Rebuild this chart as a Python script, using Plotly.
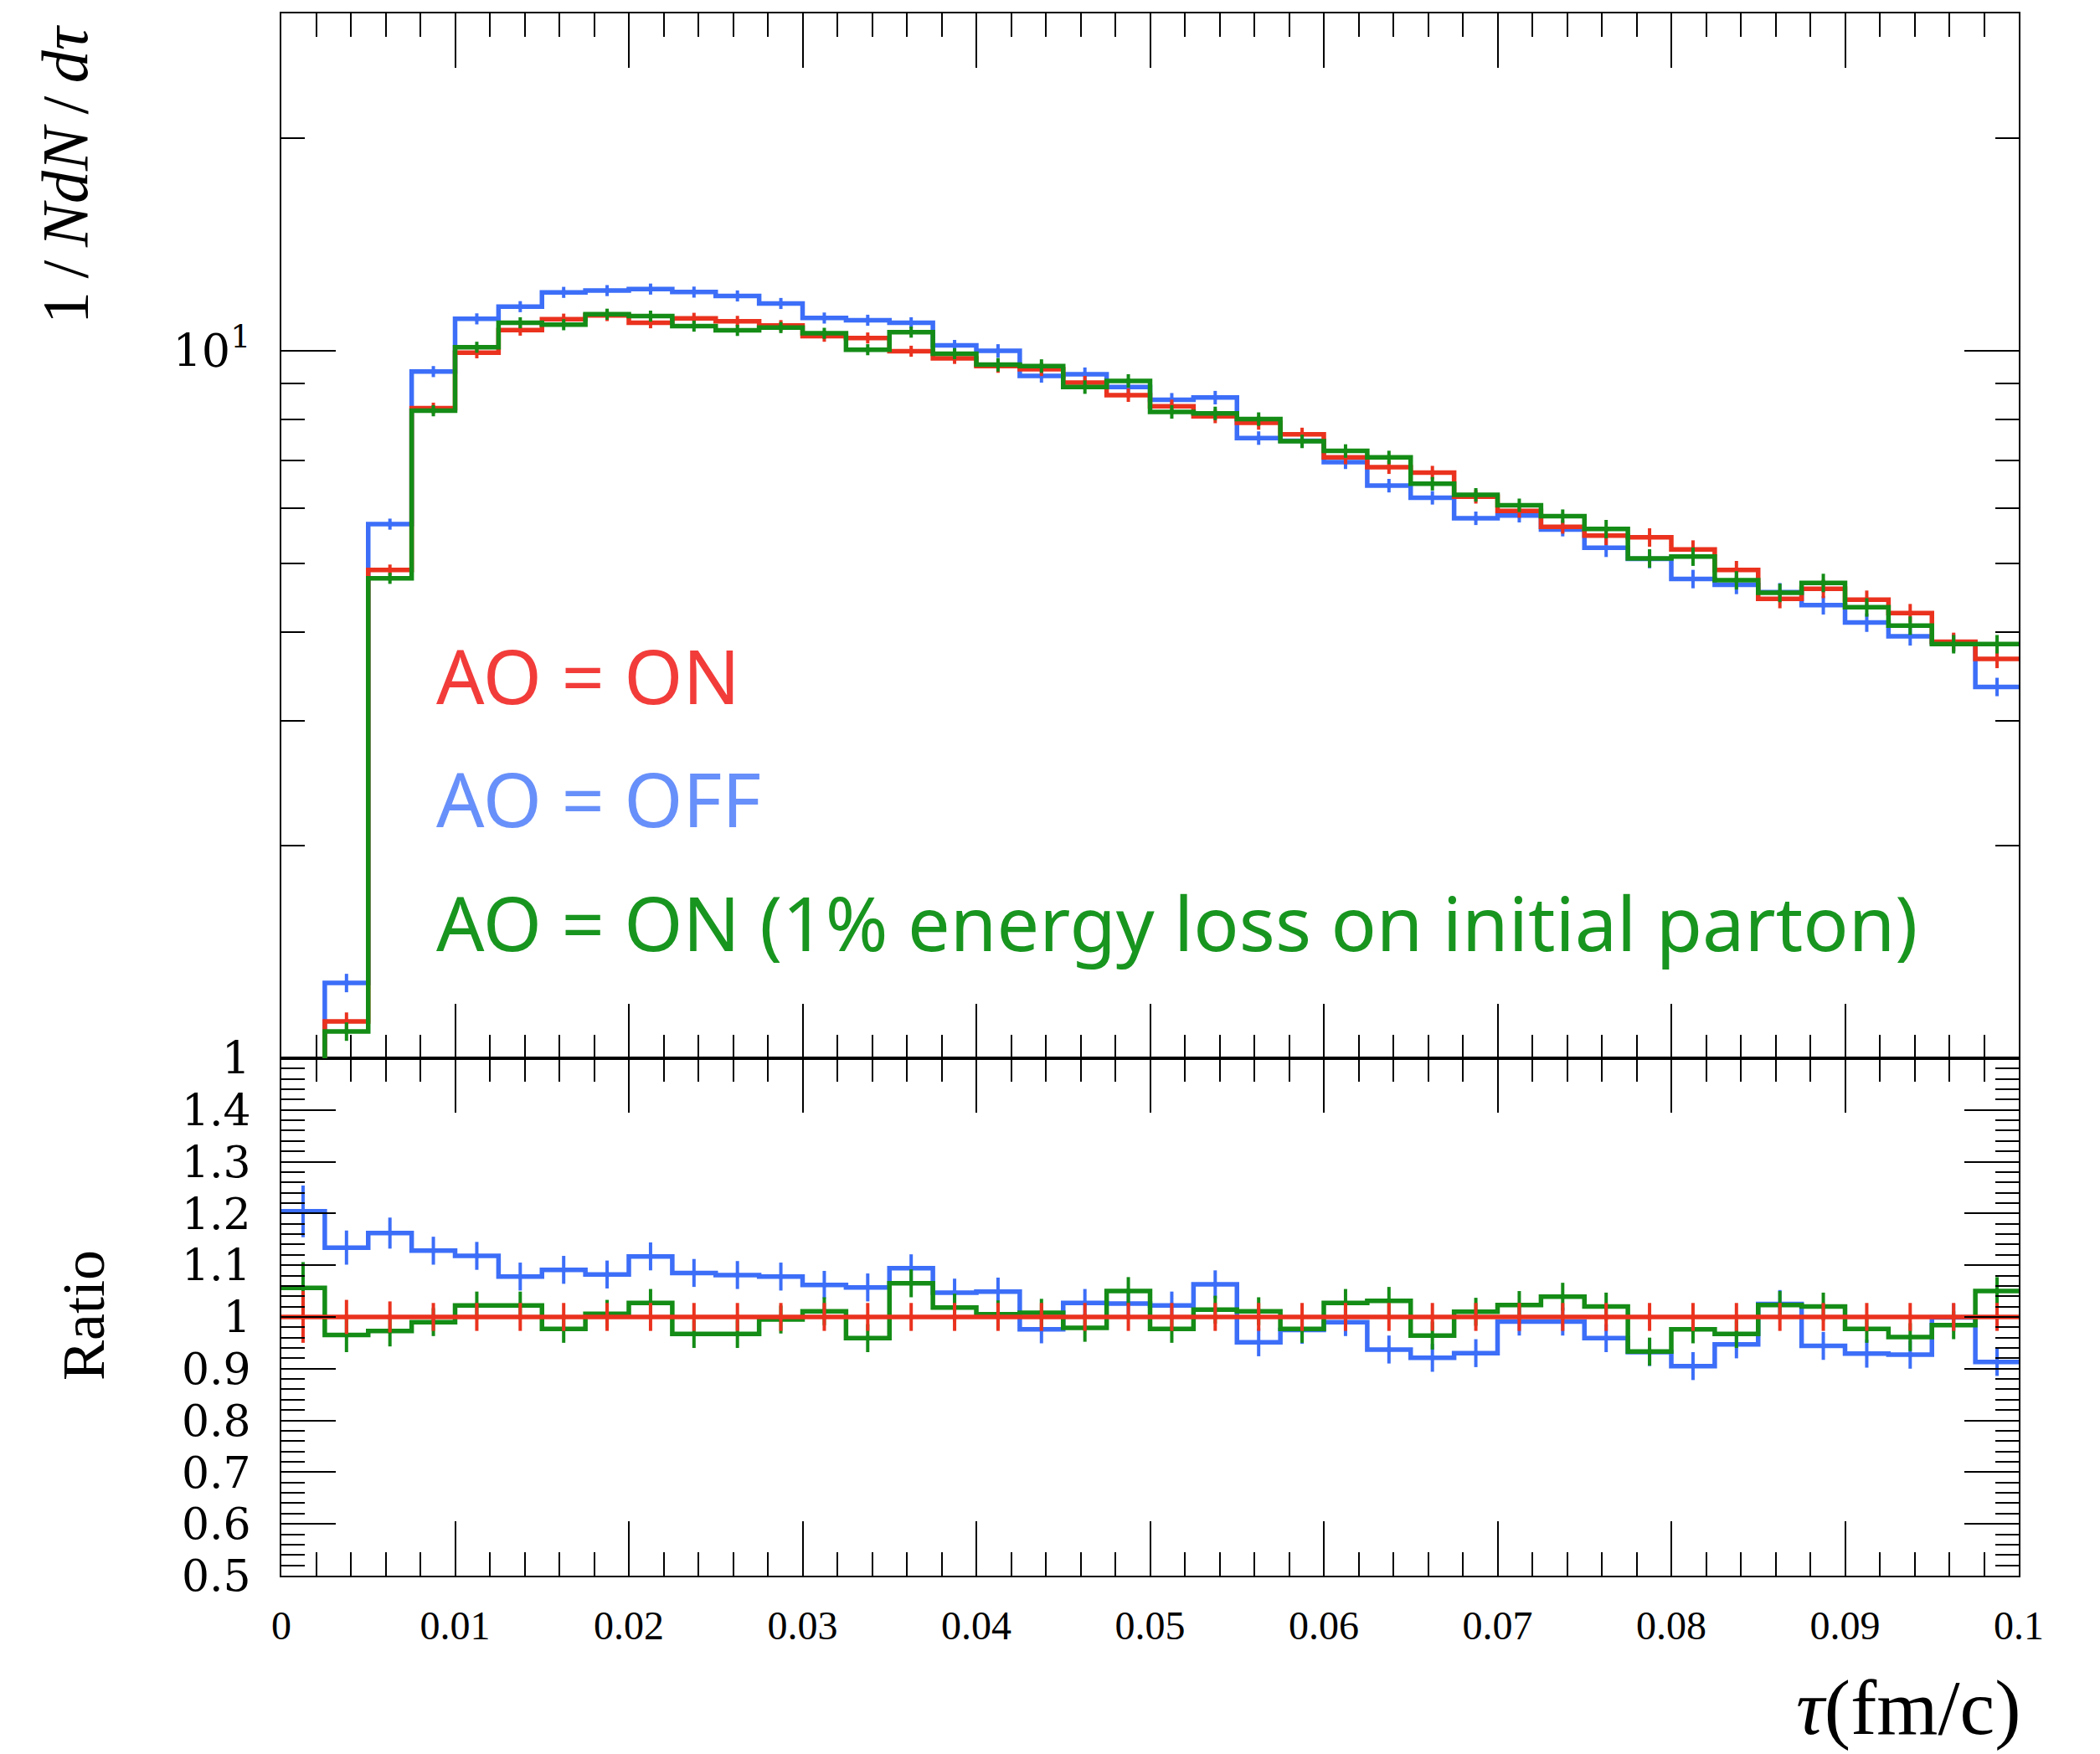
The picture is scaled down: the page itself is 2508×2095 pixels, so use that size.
import plotly.graph_objects as go

# ---------------- data ----------------
bin_edges = [0.0, 0.0025, 0.005, 0.0075, 0.01, 0.0125, 0.015, 0.0175, 0.02, 0.0225,
             0.025, 0.0275, 0.03, 0.0325, 0.035, 0.0375, 0.04, 0.0425, 0.045, 0.0475,
             0.05, 0.0525, 0.055, 0.0575, 0.06, 0.0625, 0.065, 0.0675, 0.07, 0.0725,
             0.075, 0.0775, 0.08, 0.0825, 0.085, 0.0875, 0.09, 0.0925, 0.095, 0.0975, 0.1]

ao_on = [0.45, 1.127, 4.90, 8.30, 9.94, 10.70, 11.09, 11.22, 10.96, 11.12,
         11.01, 10.86, 10.49, 10.43, 9.99, 9.76, 9.52, 9.42, 9.02, 8.66,
         8.35, 8.08, 7.91, 7.62, 7.07, 6.85, 6.73, 6.22, 5.94, 5.64,
         5.48, 5.45, 5.24, 4.90, 4.46, 4.61, 4.45, 4.26, 3.88, 3.67]

ao_off = [0.54, 1.278, 5.69, 9.35, 11.10, 11.55, 12.10, 12.17, 12.23, 12.11,
          11.96, 11.67, 11.13, 11.05, 10.96, 10.18, 10.00, 9.22, 9.27, 8.89,
          8.53, 8.59, 7.53, 7.46, 6.96, 6.45, 6.20, 5.80, 5.85, 5.59,
          5.27, 5.08, 4.76, 4.67, 4.56, 4.37, 4.13, 3.95, 3.87, 3.35]

ao_on_eloss = [0.47, 1.091, 4.77, 8.23, 10.12, 10.96, 10.89, 11.27, 11.20, 10.84,
               10.69, 10.79, 10.59, 10.04, 10.63, 9.91, 9.56, 9.52, 8.89, 9.07,
               8.20, 8.16, 8.01, 7.45, 7.22, 7.07, 6.49, 6.26, 6.05, 5.84,
               5.60, 5.09, 5.12, 4.74, 4.55, 4.70, 4.34, 4.09, 3.85, 3.85]

rel_err = [0.05, 0.03, 0.018, 0.018, 0.018, 0.018, 0.018, 0.018, 0.018, 0.018,
           0.018, 0.018, 0.018, 0.018, 0.018, 0.018, 0.022, 0.022, 0.022, 0.022,
           0.022, 0.022, 0.022, 0.022, 0.022, 0.022, 0.022, 0.022, 0.022, 0.022,
           0.03, 0.03, 0.03, 0.03, 0.03, 0.03, 0.03, 0.03, 0.03, 0.03]

ratio_on = [1.0, 1.0, 1.0, 1.0, 1.0, 1.0, 1.0, 1.0, 1.0, 1.0,
            1.0, 1.0, 1.0, 1.0, 1.0, 1.0, 1.0, 1.0, 1.0, 1.0,
            1.0, 1.0, 1.0, 1.0, 1.0, 1.0, 1.0, 1.0, 1.0, 1.0,
            1.0, 1.0, 1.0, 1.0, 1.0, 1.0, 1.0, 1.0, 1.0, 1.0]

ratio_off = [1.204, 1.134, 1.162, 1.128, 1.118, 1.078, 1.091, 1.082, 1.117, 1.085,
             1.081, 1.078, 1.062, 1.057, 1.094, 1.047, 1.049, 0.976, 1.027, 1.026,
             1.022, 1.063, 0.951, 0.975, 0.990, 0.937, 0.921, 0.930, 0.991, 0.991,
             0.959, 0.932, 0.905, 0.947, 1.025, 0.944, 0.929, 0.927, 0.999, 0.913]

ratio_eloss = [1.056, 0.965, 0.973, 0.990, 1.022, 1.022, 0.977, 1.006, 1.027, 0.967,
               0.967, 0.995, 1.011, 0.959, 1.065, 1.018, 1.005, 1.008, 0.979, 1.050,
               0.977, 1.014, 1.011, 0.977, 1.027, 1.031, 0.964, 1.010, 1.023, 1.039,
               1.020, 0.933, 0.976, 0.967, 1.023, 1.020, 0.977, 0.961, 0.984, 1.050]

ratio_err = [0.05, 0.033, 0.03, 0.027, 0.027, 0.027, 0.027, 0.027, 0.027, 0.027,
             0.027, 0.027, 0.027, 0.027, 0.027, 0.027, 0.027, 0.027, 0.027, 0.027,
             0.027, 0.027, 0.027, 0.027, 0.027, 0.027, 0.027, 0.027, 0.027, 0.027,
             0.027, 0.027, 0.027, 0.027, 0.027, 0.027, 0.027, 0.027, 0.027, 0.027]

legend_labels = ["AO = ON", "AO = OFF", "AO = ON (1% energy loss on initial parton)"]

# ---------------- styles ----------------
RED, BLUE, GREEN = "#ea321e", "#3c6ef8", "#148c16"
RED_T, BLUE_T, GREEN_T = "#f23c3a", "#6890fa", "#18951f"
SERIF = "Liberation Serif, DejaVu Serif, serif"
SERIF_W = "DejaVu Serif, Liberation Serif, serif"
LW = 5.5
EW = 4

W, H = 2508, 2095
ML, MR, MT, MB = 336, 97, 16, 213

centers = [(a + b) / 2 for a, b in zip(bin_edges[:-1], bin_edges[1:])]

fig = go.Figure()


def add_hist(vals, errs, color, xa, ya):
    fig.add_trace(go.Scatter(
        x=bin_edges, y=vals + [vals[-1]], mode="lines",
        line=dict(shape="hv", width=LW, color=color),
        xaxis=xa, yaxis=ya, showlegend=False, hoverinfo="skip"))
    fig.add_trace(go.Scatter(
        x=centers, y=vals, mode="markers",
        marker=dict(size=0, color=color),
        error_y=dict(type="data", array=errs, visible=True, width=0,
                     thickness=EW, color=color),
        xaxis=xa, yaxis=ya, showlegend=False, hoverinfo="skip"))


# top panel: blue, red, green (green on top)
for vals, col in [(ao_off, BLUE), (ao_on, RED), (ao_on_eloss, GREEN)]:
    add_hist(vals, [v * e for v, e in zip(vals, rel_err)], col, "x2", "y2")

# ratio panel: blue, green, red (red on top)
for vals, col in [(ratio_off, BLUE), (ratio_eloss, GREEN), (ratio_on, RED)]:
    add_hist(vals, ratio_err, col, "x", "y")

axis_line = dict(showline=True, linecolor="black", linewidth=2, mirror="ticks",
                 ticks="inside", tickcolor="black", tickwidth=2,
                 showgrid=False, zeroline=False, automargin=False)
minor_x = dict(ticks="inside", dtick=0.002, tick0=0, ticklen=28,
               tickcolor="black", tickwidth=2, showgrid=False)

split = 0.3312

fig.update_layout(
    width=W, height=H,
    margin=dict(l=ML, r=MR, t=MT, b=MB, autoexpand=False),
    paper_bgcolor="white", plot_bgcolor="white",
    showlegend=False,
    xaxis=dict(domain=[0, 1], anchor="y", range=[0, 0.1],
               tickmode="linear", tick0=0, dtick=0.01, ticklen=65,
               minor=minor_x, showticklabels=True,
               tickfont=dict(family=SERIF, size=48, color="black"),
               ticklabelstandoff=16, **axis_line),
    xaxis2=dict(domain=[0, 1], anchor="y2", range=[0, 0.1], matches="x",
                tickmode="linear", tick0=0, dtick=0.01, ticklen=65,
                minor=minor_x, showticklabels=False, **axis_line),
    yaxis=dict(domain=[0, split], anchor="x", range=[0.5, 1.4999],
               tickmode="linear", tick0=0.5, dtick=0.1, ticklen=65,
               minor=dict(ticks="inside", dtick=0.02, tick0=0.5, ticklen=28,
                          tickcolor="black", tickwidth=2, showgrid=False),
               tickfont=dict(family=SERIF_W, size=52, color="black"),
               ticklabelstandoff=24, **axis_line),
    yaxis2=dict(domain=[split, 1], anchor="x2", type="log",
                range=[0, 1.4771], dtick=1, ticklen=65,
                minor=dict(ticks="inside", dtick="D1", ticklen=28,
                           tickcolor="black", tickwidth=2, showgrid=False),
                labelalias={"10": "10<sup>1</sup>"},
                tickfont=dict(family=SERIF_W, size=54, color="black"),
                ticklabelstandoff=24, **axis_line),
)


def px2paper_x(px):
    return (px - ML) / (W - ML - MR)


def px2paper_y(py):
    return (H - MB - py) / (H - MB - MT)


annotations = [
    dict(text=legend_labels[0], x=px2paper_x(519), y=px2paper_y(806), color=RED_T),
    dict(text=legend_labels[1], x=px2paper_x(519), y=px2paper_y(953), color=BLUE_T),
    dict(text=legend_labels[2], x=px2paper_x(519), y=px2paper_y(1101), color=GREEN_T),
]
for a in annotations:
    fig.add_annotation(text=a["text"], xref="paper", yref="paper",
                       x=a["x"], y=a["y"], xanchor="left", yanchor="middle",
                       showarrow=False,
                       font=dict(family="Noto Sans, Lato, sans-serif", size=90,
                                 color=a["color"]))

# axis titles
fig.add_annotation(text="1\u2009/\u2009<i>NdN</i>\u2009/\u2009<i>dτ</i>",
                   xref="paper", yref="paper", x=px2paper_x(78), y=px2paper_y(208),
                   xanchor="center", yanchor="middle", textangle=-90, showarrow=False,
                   font=dict(family=SERIF, size=78, color="black"))
fig.add_annotation(text="Ratio", xref="paper", yref="paper",
                   x=px2paper_x(100), y=px2paper_y(1571),
                   xanchor="center", yanchor="middle", textangle=-90, showarrow=False,
                   font=dict(family=SERIF, size=72, color="black"))
fig.add_annotation(text="<i>τ</i>(fm/c)", xref="paper", yref="paper",
                   x=px2paper_x(2416), y=px2paper_y(H - 2),
                   xanchor="right", yanchor="bottom", showarrow=False,
                   font=dict(family=SERIF, size=94, color="black"))

fig.write_html("out.html")
